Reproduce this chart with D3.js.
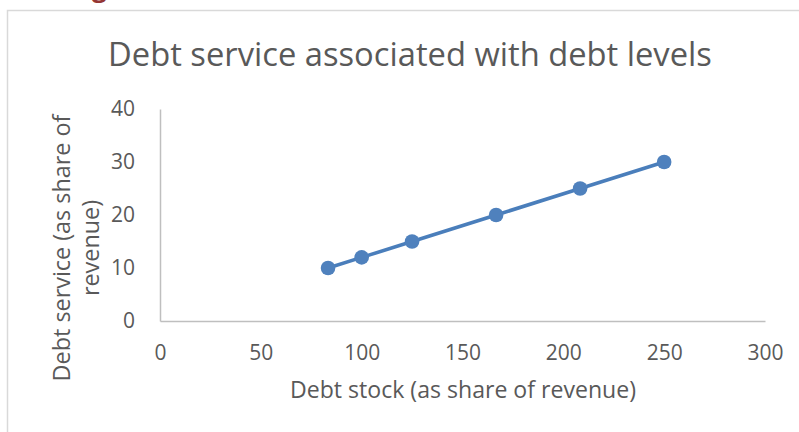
<!DOCTYPE html>
<html>
<head>
<meta charset="utf-8">
<script src="https://cdn.jsdelivr.net/npm/d3@7"></script>
<style>
  html, body { margin: 0; padding: 0; background: #fff; }
  svg { display: block; font-family: "Open Sans", sans-serif; }
</style>
</head>
<body>
<svg id="chart" width="799" height="432"></svg>
<script>
// Debt stock and the matching debt service, both as a share of revenue
const debtStock   = [83.33, 100, 125, 166.67, 208.33, 250];
const debtService = [10, 12, 15, 20, 25, 30];
const xTicks = [0, 50, 100, 150, 200, 250, 300];
const yTicks = [0, 10, 20, 30, 40];
const chartTitle = "Debt service associated with debt levels";
const xTitle = "Debt stock (as share of revenue)";
const yTitleLines = ["Debt service (as share of", "revenue)"];

const svg = d3.select("#chart");
const W = 799, H = 432;
const plot = { left: 160, right: 765, top: 109, bottom: 321 };
const textColor = "#595959";

const x = d3.scaleLinear().domain([0, 300]).range([plot.left, plot.right]);
const y = d3.scaleLinear().domain([0, 40]).range([plot.bottom, plot.top]);

// shrink or grow a text so it spans the given width
function fitWidth(sel, width) {
  const size = +sel.attr("font-size");
  const len = sel.node().getComputedTextLength();
  if (len > 0) sel.attr("font-size", (size * width / len).toFixed(2));
  return sel;
}

// heading text above the chart frame (only its descender shows)
svg.append("text")
  .attr("x", 92).attr("y", -3)
  .attr("font-size", 26).attr("font-weight", "bold")
  .attr("fill", "#943634")
  .text("g");

// chart frame
svg.append("rect")
  .attr("x", 7.5).attr("y", 10.5)
  .attr("width", W + 10).attr("height", H + 10)
  .attr("fill", "none").attr("stroke", "#d9d9d9").attr("stroke-width", 1.5);

// title
fitWidth(svg.append("text")
  .attr("x", 410).attr("y", 66)
  .attr("text-anchor", "middle")
  .attr("font-size", 32)
  .attr("fill", textColor)
  .text(chartTitle), 604);

// axes
const xAxis = svg.append("g")
  .attr("transform", `translate(0,${plot.bottom})`)
  .call(d3.axisBottom(x).tickValues(xTicks).tickSize(0).tickPadding(24));
const yAxis = svg.append("g")
  .attr("transform", `translate(${plot.left},0)`)
  .call(d3.axisLeft(y).tickValues(yTicks).tickSize(0).tickPadding(25));

[xAxis, yAxis].forEach(g => {
  g.select(".domain").attr("stroke", "#bfbfbf").attr("stroke-width", 1.5);
  g.selectAll("text")
    .attr("font-family", "'Open Sans', sans-serif")
    .attr("font-size", 21)
    .attr("fill", textColor);
});
yAxis.selectAll(".tick text").attr("dy", "0.33em");

// axis titles
fitWidth(svg.append("text")
  .attr("x", 463).attr("y", 398)
  .attr("text-anchor", "middle")
  .attr("font-size", 24)
  .attr("fill", textColor)
  .text(xTitle), 346);

const ytSize = 24;
const yt = svg.append("g").attr("transform", "translate(0,248) rotate(-90)");
yTitleLines.forEach((line, i) => {
  const t = yt.append("text")
    .attr("x", 0).attr("y", i === 0 ? 70 : 99)
    .attr("text-anchor", "middle")
    .attr("font-size", ytSize)
    .attr("fill", textColor)
    .text(line);
  if (i === 0) fitWidth(t, 267);
});
// second line uses the same size as the first
yt.selectAll("text").attr("font-size", yt.select("text").attr("font-size"));

// series
const pts = debtStock.map((d, i) => [d, debtService[i]]);
svg.append("path")
  .datum(pts)
  .attr("fill", "none")
  .attr("stroke", "#4a7ebb")
  .attr("stroke-width", 3.6)
  .attr("stroke-linejoin", "round")
  .attr("d", d3.line().x(d => x(d[0])).y(d => y(d[1])));

svg.selectAll("circle.pt")
  .data(pts)
  .enter().append("circle")
  .attr("class", "pt")
  .attr("cx", d => x(d[0]))
  .attr("cy", d => y(d[1]))
  .attr("r", 7.3)
  .attr("fill", "#4f81bd");
</script>
</body>
</html>
